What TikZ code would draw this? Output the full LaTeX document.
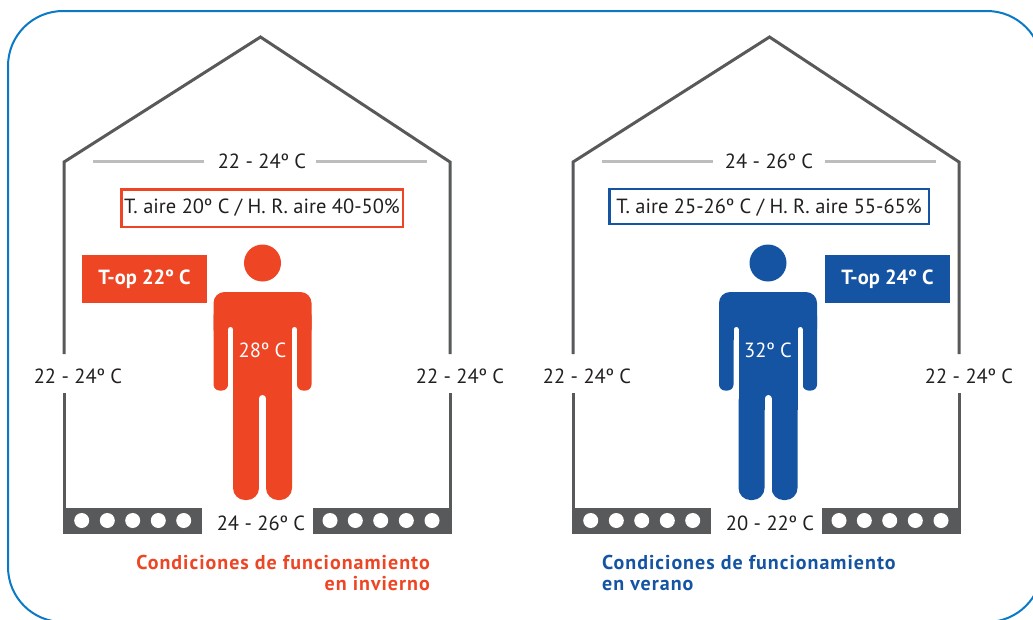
\documentclass[tikz,border=0pt]{standalone}
\usepackage{fontspec}
\setmainfont{PT Sans}
\newfontfamily\capfont[LetterSpace=5]{PT Sans}
\definecolor{rd}{HTML}{EE4524}
\definecolor{bl}{HTML}{1454A2}
\definecolor{wall}{HTML}{58595B}
\definecolor{ceil}{HTML}{BDBDBD}
\definecolor{frm}{HTML}{0A7AC6}
\definecolor{txt}{HTML}{231F20}
\tikzset{
  lbl/.style={font=\fontsize{20.5}{24}\selectfont, text=txt, inner sep=0pt, anchor=base},
  toplbl/.style={font=\fontsize{20.5}{24}\selectfont\bfseries, text=white, inner sep=0pt, anchor=base},
  caplbl/.style={font=\capfont\fontsize{20}{22}\selectfont\bfseries, inner sep=0pt},
  wallline/.style={wall, line width=3pt},
  infobox/.style={line width=2.5pt, inner sep=0pt, fill=white},
  opbox/.style={inner sep=0pt, minimum width=125pt, minimum height=48pt}
}
\newcommand\myhouse{%
  \draw[wallline] (64,508) -- (64,393);
  \draw[wallline, line join=miter] (64,354) -- (64,162) -- (260.5,37) -- (450,162) -- (450,354);
  \draw[wallline] (450,393) -- (450,508);
  \draw[ceil, line width=3pt] (93,161) -- (204,161) (316,161) -- (427,161);
  \fill[wall] (62.5,508) rectangle (202,534);
  \fill[wall] (313,508) rectangle (451.5,534);
  \foreach \cx in {81.7,107.3,132.7,158.3,183.7,330,355.3,380.7,406.3,432}
    \fill[white] (\cx,520.5) circle (7.5);
}
\newcommand\myperson[2]{%
  \fill[#2] (#1,263) circle (18.5);
  \fill[#2, rounded corners=11pt] (#1-49,340) -- (#1-49,292) -- (#1+49,292) -- (#1+49,340) -- cycle;
  \fill[#2, rounded corners=6pt] (#1-49,310) rectangle (#1-34.5,390.5);
  \fill[#2, rounded corners=6pt] (#1+34.5,310) rectangle (#1+49,390.5);
  \fill[#2] (#1-29.5,310) rectangle (#1+29.5,410);
  \fill[#2, rounded corners=12pt] (#1-29.5,380) rectangle (#1-3.5,500);
  \fill[#2, rounded corners=12pt] (#1+3.5,380) rectangle (#1+29.5,500);
  \draw[white, line width=5pt, line cap=round] (#1-32,329.5) -- (#1-32,398);
  \draw[white, line width=5pt, line cap=round] (#1+32,329.5) -- (#1+32,398);
  \draw[white, line width=7pt, line cap=round] (#1,398.5) -- (#1,504);
}
\begin{document}
\begin{tikzpicture}[x=1pt, y=-1pt]
\useasboundingbox (0,0) rectangle (1033,619);
\draw[frm, line width=2pt, rounded corners=55pt] (8,11) rectangle (1042,622);

% ---------- winter house ----------
\myhouse
\node[infobox, draw=rd, minimum width=281.5pt, minimum height=37.5pt] (boxA) at (262,208) {};
\node[lbl] (airA) at (262,213.3) {T. aire 20º C / H. R. aire 40-50\%};
\node[lbl] (ceilA) at (262,168.3) {22 - 24º C};
\node[opbox, fill=rd] (opA) at (144.5,279) {};
\node[toplbl] (opAt) at (144.5,284) {T-op 22º C};
\myperson{262.5}{rd}
\node[lbl, text=white] (bodyA) at (262.5,357.3) {28º C};
\node[lbl] (wlA) at (78,383.3) {22 - 24º C};
\node[lbl] (wrA) at (460,383.3) {22 - 24º C};
\node[lbl] (flA) at (261,530) {24 - 26º C};
\node[caplbl, text=rd, anchor=base east] (capA1) at (430,569.3) {Condiciones de funcionamiento};
\node[caplbl, text=rd, anchor=base east] (capA2) at (430,590.7) {en invierno};

% ---------- summer house ----------
\begin{scope}[xshift=509pt]
\myhouse
\end{scope}
\node[infobox, draw=bl, minimum width=319.5pt, minimum height=35pt] (boxB) at (769,206.5) {};
\node[lbl] (airB) at (769,213.3) {T. aire 25-26º C / H. R. aire 55-65\%};
\node[lbl] (ceilB) at (769,168.3) {24 - 26º C};
\node[opbox, fill=bl] (opB) at (887.5,279) {};
\node[toplbl] (opBt) at (887.5,284) {T-op 24º C};
\myperson{768}{bl}
\node[lbl, text=white] (bodyB) at (768,357.3) {32º C};
\node[lbl] (wlB) at (587,383.3) {22 - 24º C};
\node[lbl] (wrB) at (969,383.3) {22 - 24º C};
\node[lbl] (flB) at (770,530) {20 - 22º C};
\node[caplbl, text=bl, anchor=base west] (capB1) at (602,569.3) {Condiciones de funcionamiento};
\node[caplbl, text=bl, anchor=base west] (capB2) at (602,590.7) {en verano};
\end{tikzpicture}
\end{document}
